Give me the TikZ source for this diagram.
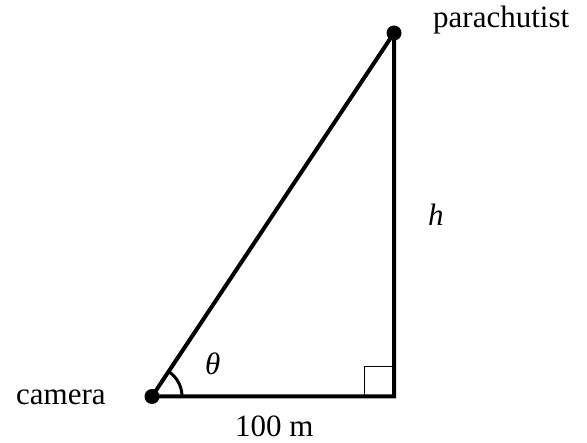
\documentclass[tikz,border=0pt]{standalone}
\usepackage{fontspec}
\setmainfont{Liberation Serif}
\begin{document}
\begin{tikzpicture}[x=1bp, y=1bp,
    lbl/.style={anchor=base west, inner sep=0pt, font=\fontsize{31bp}{37bp}\selectfont},
    side/.style={line width=4bp},
    dot/.style={circle, fill=black, inner sep=0pt, minimum size=15bp}]
    \useasboundingbox (0,0) rectangle (587,443);

    % Corners
    \coordinate (cam) at (152,46.5);
    \coordinate (corner) at (394,46.5);
    \coordinate (para) at (394,410);

    % Triangle
    \draw[side] (cam) -- (corner) -- (para) -- cycle;

    % Right angle mark
    \draw[line width=1bp] ([xshift=-30bp]corner) -- ++(0,30) -- ++(30,0);

    % Angle arc
    \draw[line width=3bp] ([xshift=30bp]cam) arc[start angle=0, end angle=56.35, radius=30bp];

    % Dots
    \node[dot] (camdot) at (cam) {};
    \node[dot] (paradot) at (para) {};

    % Labels
    \node[lbl] (camlbl) at (16,38) {camera};
    \node[lbl] (paralbl) at (433,415) {parachutist};
    \node[lbl] (hlbl) at (428,217) {\itshape h};
    \node[lbl] (thlbl) at (205,68) {\itshape θ};
    \node[lbl] (baselbl) at (235,6) {100 m};
\end{tikzpicture}
\end{document}
